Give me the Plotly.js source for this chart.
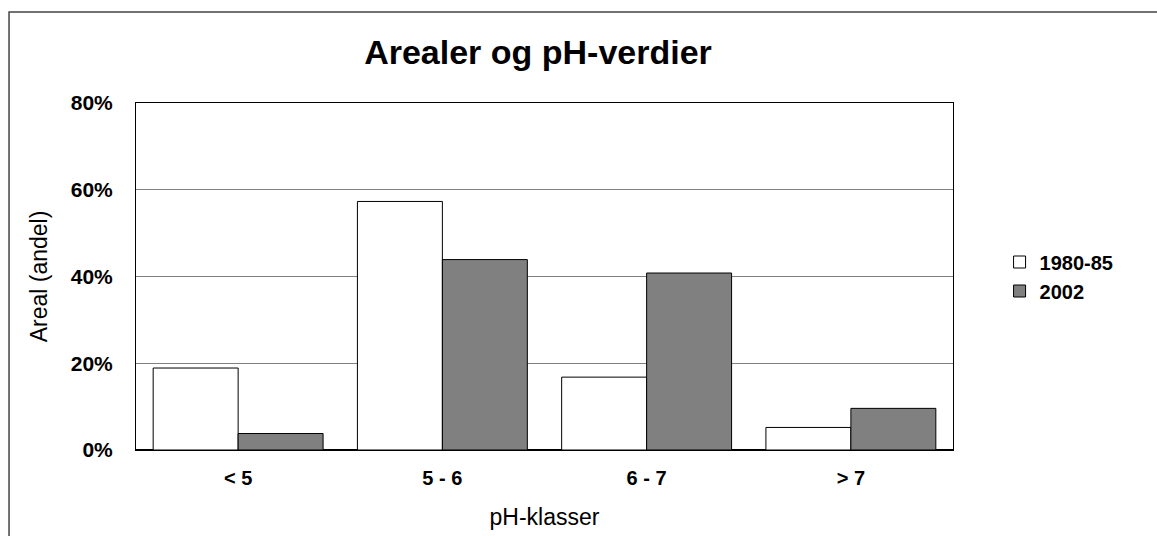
<!DOCTYPE html>
<html>
<head>
<meta charset="utf-8">
<script src="https://cdn.plot.ly/plotly-3.0.1.min.js"></script>
<style>html,body{margin:0;padding:0;background:#fff;}#chart{width:1157px;height:536px;}</style>
</head>
<body>
<div id="chart"></div>
<script>
const categories = ['< 5', '5 - 6', '6 - 7', '> 7'];
const series1Name = '1980-85';
const series1 = [0.189, 0.573, 0.168, 0.052];
const series2Name = '2002';
const series2 = [0.038, 0.439, 0.408, 0.096];
const yTicks = [0, 0.2, 0.4, 0.6, 0.8];
const yTickLabels = ['0%', '20%', '40%', '60%', '80%'];

const FONT = 'Arial, "Liberation Sans", sans-serif';

const traces = [
  {type:'bar', name: series1Name, x: categories, y: series1,
   marker:{color:'#ffffff', line:{color:'#000000', width:1}}},
  {type:'bar', name: series2Name, x: categories, y: series2,
   marker:{color:'#808080', line:{color:'#000000', width:1}}}
];

const layout = {
  width:1157, height:536,
  paper_bgcolor:'#ffffff', plot_bgcolor:'#ffffff',
  margin:{l:136, r:204, t:103, b:86},
  barmode:'group', bargap:0.168, bargroupgap:0,
  font:{family:FONT, color:'#000000'},
  title:{text:'<b>Arealer og pH-verdier</b>', font:{family:FONT, size:34, color:'#000'},
         x:0.465, xref:'container', xanchor:'center', y:0.903, yref:'container', yanchor:'middle'},
  xaxis:{
    type:'category', showgrid:false, zeroline:false,
    showline:true, linecolor:'#000', linewidth:1, mirror:true,
    ticks:'', tickfont:{family:FONT, size:20, color:'#000', weight:'bold'},
    ticklabelstandoff:10,
    title:{text:'pH-klasser', font:{family:FONT, size:23, color:'#000'}, standoff:20}
  },
  yaxis:{
    range:[0, 0.8], tickvals:yTicks, ticktext:yTickLabels,
    showgrid:true, gridcolor:'#808080', gridwidth:1,
    zeroline:true, zerolinecolor:'#000', zerolinewidth:2,
    showline:true, linecolor:'#000', linewidth:1, mirror:true,
    ticks:'', tickfont:{family:FONT, size:21, color:'#000', weight:'bold'},
    ticklabelstandoff:18,
    title:{text:'Areal (andel)', font:{family:FONT, size:23, color:'#000'}, standoff:16}
  },
  legend:{x:1.057, xanchor:'left', y:0.5, yanchor:'middle',
          font:{family:FONT, size:20, color:'#000', weight:'bold'},
          bgcolor:'rgba(0,0,0,0)', tracegroupgap:0},
  shapes:[
    {type:'rect', xref:'paper', yref:'paper', x0:-0.1554, x1:3, y0:-2, y1:1.262,
     line:{color:'#444444', width:1.5}, fillcolor:'rgba(0,0,0,0)', layer:'below'}
  ]
};

Plotly.newPlot('chart', traces, layout, {displayModeBar:false, staticPlot:true});
</script>
</body>
</html>
